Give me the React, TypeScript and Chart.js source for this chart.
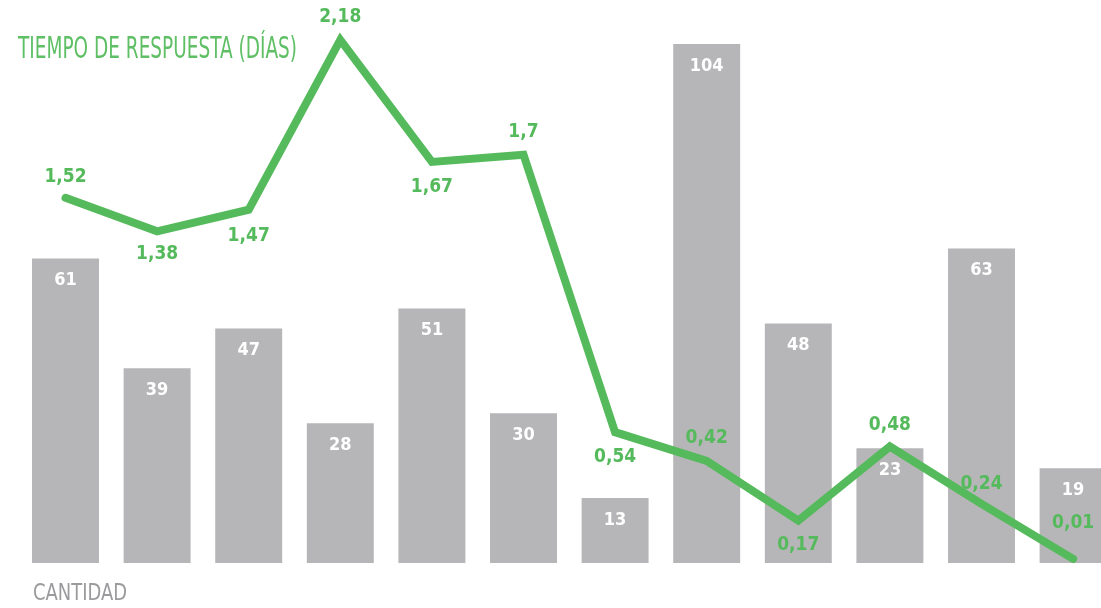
import React, { useEffect, useRef } from 'react';
import { Chart, registerables } from 'chart.js';

Chart.register(...registerables);

const categories = ['1', '2', '3', '4', '5', '6', '7', '8', '9', '10', '11', '12'];
const cantidad = [61, 39, 47, 28, 51, 30, 13, 104, 48, 23, 63, 19];
const tiempo = [1.52, 1.38, 1.47, 2.18, 1.67, 1.7, 0.54, 0.42, 0.17, 0.48, 0.24, 0.01];
const labelOffsets = [-21, 23, 26, -23, 25, -23, 25, -23, 24, -21, -20, -36];

const titleText = 'TIEMPO DE RESPUESTA (DÍAS)';
const cantidadText = 'CANTIDAD';

const GREEN = '#55ba5b';
const TITLE_GREEN = '#5fbf65';
const BAR_GRAY = '#b6b6b8';
const TEXT_GRAY = '#9b9b9e';
const FONT = '"DejaVu Sans Condensed", "DejaVu Sans", sans-serif';

const fmt = (v: number) => String(v).replace('.', ',');

function drawFitted(ctx: CanvasRenderingContext2D, text: string, x: number, y: number, width: number, font: string, color: string) {
  ctx.save();
  ctx.font = font;
  ctx.fillStyle = color;
  ctx.textAlign = 'left';
  ctx.textBaseline = 'alphabetic';
  const w = ctx.measureText(text).width;
  ctx.translate(x, y);
  ctx.scale(width / w, 1);
  ctx.fillText(text, 0, 0);
  ctx.restore();
}

const labelsPlugin = {
  id: 'customLabels',
  afterDatasetsDraw(chart: any) {
    const ctx: CanvasRenderingContext2D = chart.ctx;
    ctx.save();
    ctx.textAlign = 'center';
    ctx.textBaseline = 'middle';
    const barMeta = chart.getDatasetMeta(0);
    ctx.font = `bold 18px ${FONT}`;
    ctx.fillStyle = '#ffffff';
    barMeta.data.forEach((el: any, i: number) => {
      ctx.fillText(String(cantidad[i]), el.x, el.y + 22);
    });
    const lineMeta = chart.getDatasetMeta(1);
    ctx.font = `bold 19px ${FONT}`;
    ctx.fillStyle = GREEN;
    lineMeta.data.forEach((el: any, i: number) => {
      ctx.fillText(fmt(tiempo[i]), el.x, el.y + labelOffsets[i]);
    });
    ctx.restore();
  },
  afterDraw(chart: any) {
    const ctx: CanvasRenderingContext2D = chart.ctx;
    drawFitted(ctx, titleText, 18, 58, 279, `31px ${FONT}`, TITLE_GREEN);
    drawFitted(ctx, cantidadText, 33, 599.5, 94, `23px ${FONT}`, TEXT_GRAY);
  },
};

export default function App() {
  const ref = useRef<HTMLCanvasElement | null>(null);
  useEffect(() => {
    if (!ref.current) return;
    const chart = new Chart(ref.current, {
      type: 'bar',
      data: {
        labels: categories,
        datasets: [
          {
            type: 'bar',
            data: cantidad,
            backgroundColor: BAR_GRAY,
            borderWidth: 0,
            categoryPercentage: 1,
            barPercentage: 0.731,
            yAxisID: 'y',
            order: 2,
          } as any,
          {
            type: 'line',
            data: tiempo,
            borderColor: GREEN,
            borderWidth: 8,
            borderJoinStyle: 'miter',
            borderCapStyle: 'round',
            pointRadius: 0,
            tension: 0,
            fill: false,
            clip: false,
            yAxisID: 'y1',
            order: 1,
          } as any,
        ],
      },
      options: {
        animation: false,
        responsive: false,
        maintainAspectRatio: false,
        layout: { padding: { left: 19.7, right: 1.1, top: 0, bottom: 45 } },
        plugins: {
          legend: { display: false },
          tooltip: { enabled: false },
          title: { display: false },
        },
        scales: {
          x: { display: false, offset: true },
          y: { display: false, min: 0, max: 112.8 },
          y1: { display: false, min: -0.007, max: 2.347, position: 'right' },
        },
      },
      plugins: [labelsPlugin],
    });
    return () => chart.destroy();
  }, []);
  return (
    <div style={{ position: 'fixed', left: 0, top: 0, width: 1101, height: 608, overflow: 'hidden', background: '#fff' }}>
      <canvas ref={ref} width={1120} height={608} style={{ display: 'block', width: 1120, height: 608 }} />
    </div>
  );
}
